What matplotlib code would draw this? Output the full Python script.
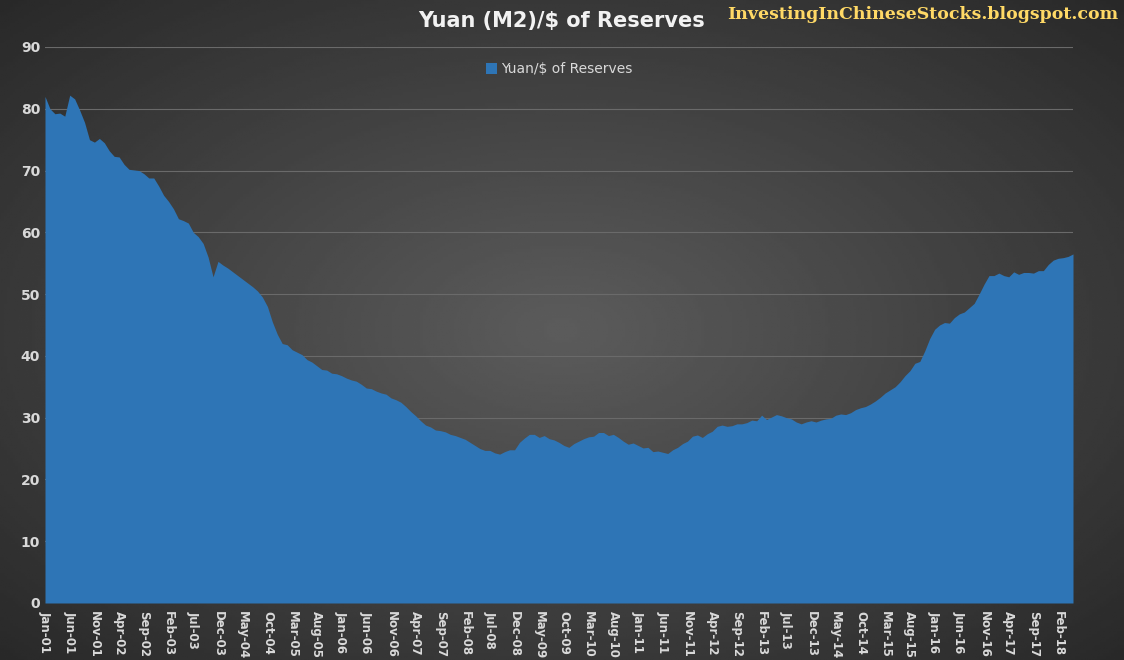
import numpy as np
import pandas as pd
import matplotlib
matplotlib.use('Agg')
import matplotlib.pyplot as plt

# monthly values Jan-01 .. May-18
y2001 = [82, 80, 79.2, 79.3, 78.8, 82.2, 81.6, 79.8, 77.8, 75, 74.6, 75.2]
y2002 = [74.5, 73.2, 72.3, 72.2, 71, 70.2, 70.1, 70, 69.5, 68.8, 68.8, 67.5]
y2003 = [66, 65, 63.8, 62.2, 61.9, 61.5, 60, 59.3, 58.2, 56, 52.8, 55.3]
y2004 = [54.7, 54.2, 53.6, 53, 52.4, 51.8, 51.2, 50.5, 49.5, 48, 45.5, 43.5]
y2005 = [42, 41.8, 41, 40.6, 40.2, 39.4, 39, 38.4, 37.8, 37.7, 37.2, 37.1]
y2006 = [36.8, 36.4, 36.1, 35.9, 35.4, 34.8, 34.7, 34.3, 34, 33.8, 33.2, 32.9]
y2007 = [32.5, 31.8, 31, 30.3, 29.5, 28.8, 28.5, 28, 27.9, 27.7, 27.3, 27.1]
y2008 = [26.8, 26.5, 26, 25.5, 25, 24.7, 24.7, 24.3, 24.1, 24.5, 24.8, 24.8]
y2009 = [26, 26.7, 27.3, 27.3, 26.8, 27.1, 26.6, 26.4, 26, 25.5, 25.2, 25.8]
y2010 = [26.2, 26.6, 26.9, 27, 27.6, 27.6, 27.1, 27.3, 26.8, 26.2, 25.7, 25.9]
y2011 = [25.5, 25.1, 25.2, 24.5, 24.6, 24.4, 24.2, 24.8, 25.2, 25.8, 26.2, 27]
y2012 = [27.2, 26.8, 27.4, 27.8, 28.6, 28.8, 28.6, 28.7, 29, 29, 29.2, 29.6]
y2013 = [29.5, 30.4, 29.7, 30.1, 30.5, 30.3, 30, 29.8, 29.3, 29, 29.3, 29.5]
y2014 = [29.3, 29.6, 29.8, 29.9, 30.4, 30.6, 30.5, 30.8, 31.3, 31.6, 31.8, 32.2]
y2015 = [32.7, 33.3, 34, 34.5, 35, 35.8, 36.8, 37.6, 38.8, 39.1, 40.8, 42.8]
y2016 = [44.3, 45, 45.4, 45.3, 46.2, 46.8, 47.1, 47.8, 48.5, 50, 51.6, 53]
y2017 = [53, 53.4, 53, 52.8, 53.6, 53.2, 53.5, 53.5, 53.4, 53.8, 53.8, 54.8]
y2018 = [55.5, 55.8, 55.9, 56.1, 56.5]

values = (y2001 + y2002 + y2003 + y2004 + y2005 + y2006 + y2007 + y2008 + y2009
          + y2010 + y2011 + y2012 + y2013 + y2014 + y2015 + y2016 + y2017 + y2018)
months = pd.date_range("2001-01-01", periods=len(values), freq="MS")
month_labels = [d.strftime("%b-%y") for d in months]

fig = plt.figure(figsize=(11.24, 6.6), dpi=100)

# radial gray background
bg = fig.add_axes([0, 0, 1, 1], zorder=-10)
gx, gy = np.meshgrid(np.linspace(-1, 1, 400), np.linspace(-1, 1, 240))
r = np.sqrt(gx**2 + gy**2) / np.sqrt(2)
bg.imshow(0.36 - 0.2 * r, cmap='gray', vmin=0, vmax=1, aspect='auto', extent=[0, 1, 0, 1])
bg.axis('off')

ax = fig.add_axes([45/1124, 57/660, 1028/1124, 556/660])
ax.patch.set_alpha(0)
x = np.arange(len(values))
ax.fill_between(x, values, 0, color='#2E75B6', lw=0, zorder=3, label='Yuan/$ of Reserves')
ax.set_xlim(0, len(values) - 1)
ax.set_ylim(0, 90)
ax.set_yticks(range(0, 91, 10))
ax.yaxis.grid(True, color='#6a6a6a', lw=0.8)
ax.set_axisbelow(True)
ax.set_xticks(x[::5])
ax.set_xticklabels(month_labels[::5], rotation=-90, fontsize=8.5, color='#d9d9d9', fontweight='bold')
ax.tick_params(axis='y', colors='#d9d9d9', labelsize=10, length=0)
ax.tick_params(axis='x', length=0, pad=6)
for lbl in ax.get_yticklabels():
    lbl.set_fontweight('bold')
for s in ax.spines.values():
    s.set_visible(False)

leg = ax.legend(loc='upper center', bbox_to_anchor=(0.5, 0.995), frameon=False, fontsize=10,
                handlelength=0.8, handleheight=0.8, handletextpad=0.3, labelcolor='#d9d9d9')

fig.text(0.5, 0.968, "Yuan (M2)/\\$ of Reserves", ha='center', va='center', fontsize=15,
         fontweight='bold', color='#f2f2f2')
fig.text(0.995, 0.978, "InvestingInChineseStocks.blogspot.com", ha='right', va='center',
         fontsize=12.5, fontweight='bold', color='#ffd966', family='DejaVu Serif')

plt.savefig("out.png", dpi=100)
